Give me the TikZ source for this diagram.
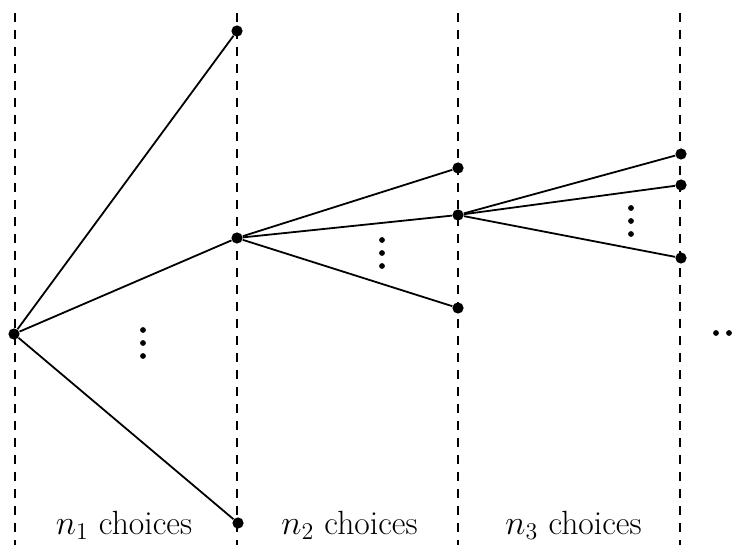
\documentclass[tikz,border=0pt]{standalone}
\begin{document}
\begin{tikzpicture}[x=0.5pt,y=-0.5pt,
  vertex/.style={circle,fill=black,inner sep=0pt,minimum size=5.6pt},
  edge/.style={line width=0.9pt},
  divider/.style={line width=0.8pt,dash pattern=on 4.5pt off 4pt},
  dotmark/.style={circle,fill=black,inner sep=0pt,minimum size=2.9pt},
  label/.style={font=\fontsize{16.8}{20}\selectfont,anchor=base}]
\useasboundingbox (0,0) rectangle (739,545);
\clip (0,0) rectangle (739,545);

% stage boundaries
\foreach \xx in {15,237,458,680}
  \draw[divider] (\xx,13) -- (\xx,560);

% tree vertices
\node[vertex] (r)   at (14,334) {};
\node[vertex] (a1)  at (237,31) {};
\node[vertex] (a2)  at (237,238) {};
\node[vertex] (a3)  at (238,523) {};
\node[vertex] (b1)  at (458,168) {};
\node[vertex] (b2)  at (458,215) {};
\node[vertex] (b3)  at (458,308) {};
\node[vertex] (c1)  at (681,154) {};
\node[vertex] (c2)  at (681,185) {};
\node[vertex] (c3)  at (681,258) {};

% branches
\draw[edge] (r) -- (a1);
\draw[edge] (r) -- (a2);
\draw[edge] (r) -- (a3);
\draw[edge] (a2) -- (b1);
\draw[edge] (a2) -- (b2);
\draw[edge] (a2) -- (b3);
\draw[edge] (b2) -- (c1);
\draw[edge] (b2) -- (c2);
\draw[edge] (b2) -- (c3);

% omitted branches
\foreach \yy in {330,343,356} \node[dotmark] at (143,\yy) {};
\foreach \yy in {240,253,266} \node[dotmark] at (382,\yy) {};
\foreach \yy in {208,221,234} \node[dotmark] at (631,\yy) {};
\foreach \xx in {716,729,742} \node[dotmark] at (\xx,333) {};

% stage labels
\node[label] (l1) at (124,534) {$n_1$ choices};
\node[label] (l2) at (349.5,534) {$n_2$ choices};
\node[label] (l3) at (573.5,534) {$n_3$ choices};
\end{tikzpicture}
\end{document}
